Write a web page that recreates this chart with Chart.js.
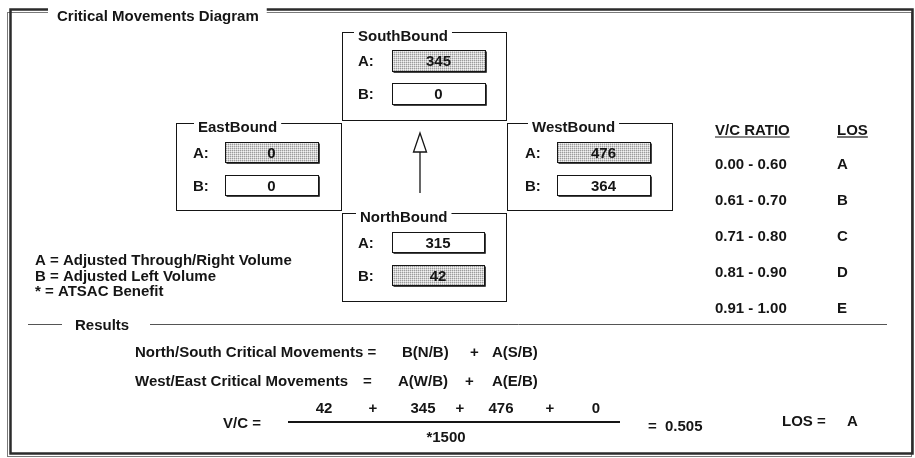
<!DOCTYPE html>
<html><head><meta charset="utf-8">
<script src="https://cdn.jsdelivr.net/npm/chart.js@4.4.0/dist/chart.umd.min.js"></script>
<style>html,body{margin:0;padding:0;background:#fff;overflow:hidden}</style>
</head><body>
<canvas id="c" width="915" height="458"></canvas>
<script>
// ---- data ----
const approaches = ['SouthBound', 'EastBound', 'WestBound', 'NorthBound'];
const volumeA = [345, 0, 476, 315];
const volumeB = [0, 0, 364, 42];
const criticalA = [true, true, true, false];
const criticalB = [false, false, false, true];
const vcRanges = ['0.00 - 0.60', '0.61 - 0.70', '0.71 - 0.80', '0.81 - 0.90', '0.91 - 1.00'];
const losGrades = ['A', 'B', 'C', 'D', 'E'];
const legendLines = ['A = Adjusted Through/Right Volume', 'B = Adjusted Left Volume', '* = ATSAC Benefit'];
const capacity = 1500;
const vcRatio = 0.505;
const losResult = 'A';

// ---- layout (positions only) ----
const FONT = 'bold 15px "Liberation Sans", Arial, Helvetica, sans-serif';
const INK = '#151515';
const boxes = [
  {x0:342,y0:32,x1:506,y1:120,tx:358,lx:358,cx0:392,cx1:485,ay0:50,ay1:71,by0:83,by1:104},
  {x0:176,y0:123,x1:341,y1:210,tx:198,lx:193,cx0:225,cx1:318,ay0:142,ay1:162,by0:175,by1:195},
  {x0:507,y0:123,x1:672,y1:210,tx:532,lx:525,cx0:557,cx1:650,ay0:142,ay1:162,by0:175,by1:195},
  {x0:342,y0:213,x1:506,y1:301,tx:360,lx:358,cx0:392,cx1:484,ay0:232,ay1:252,by0:265,by1:285}
];

const cells = [];
approaches.forEach((name, i) => {
  const b = boxes[i];
  cells.push({x:(b.cx0+b.cx1)/2, y:(b.ay0+b.ay1)/2, w:b.cx1-b.cx0, h:b.ay1-b.ay0, v:volumeA[i], crit:criticalA[i]});
  cells.push({x:(b.cx0+b.cx1)/2, y:(b.by0+b.by1)/2, w:b.cx1-b.cx0, h:b.by1-b.by0, v:volumeB[i], crit:criticalB[i]});
});

function makePattern(ctx){
  const pc = document.createElement('canvas'); pc.width = 2; pc.height = 2;
  const p = pc.getContext('2d');
  p.fillStyle = '#f2f2f2'; p.fillRect(0,0,2,2);
  p.fillStyle = '#9c9c9c'; p.fillRect(0,0,1,1);
  p.fillStyle = '#d2d2d2'; p.fillRect(1,0,1,1); p.fillRect(0,1,1,1);
  return ctx.createPattern(pc, 'repeat');
}

const diagram = {
  id: 'diagram',
  beforeDraw(chart){
    const ctx = chart.ctx;
    ctx.save(); ctx.fillStyle = '#fff'; ctx.fillRect(0,0,chart.width,chart.height); ctx.restore();
  },
  afterDraw(chart){
    const ctx = chart.ctx;
    const sx = chart.scales.x, sy = chart.scales.y;
    const X = v => sx.getPixelForValue(v);
    const Y = v => sy.getPixelForValue(v);
    const line = (x0,y0,x1,y1,w,c) => { ctx.beginPath(); ctx.lineWidth = w||1; ctx.strokeStyle = c||INK; ctx.moveTo(X(x0),Y(y0)); ctx.lineTo(X(x1),Y(y1)); ctx.stroke(); };
    const rect = (x0,y0,x1,y1,w,c) => { ctx.lineWidth = w||1; ctx.strokeStyle = c||INK; ctx.strokeRect(X(x0),Y(y0),X(x1)-X(x0),Y(y1)-Y(y0)); };
    const text = (s,x,y,align) => { ctx.font = FONT; ctx.fillStyle = INK; ctx.textAlign = align||'left'; ctx.textBaseline = 'alphabetic'; ctx.fillText(s, X(x), Y(y)); };
    const tw = s => { ctx.font = FONT; return ctx.measureText(s).width; };
    const white = (x0,y0,x1,y1) => { ctx.fillStyle = '#fff'; ctx.fillRect(X(x0),Y(y0),X(x1)-X(x0),Y(y1)-Y(y0)); };
    ctx.save();

    // outer frame
    rect(7.5,12.5,911.5,456.5,1,'#7a7a7a');
    rect(10.5,9.5,912.5,453.5,2.5,'#2b2b2b');
    const title = 'Critical Movements Diagram';
    white(48, 4, 57 + tw(title) + 8, 16);
    text(title, 57, 21);

    // approach group boxes
    boxes.forEach((b, i) => {
      rect(b.x0+0.5, b.y0+0.5, b.x1+0.5, b.y1+0.5, 1);
      white(b.tx-4, b.y0-2, b.tx + tw(approaches[i]) + 4, b.y0+3);
      text(approaches[i], b.tx, b.y0+9);
      text('A:', b.lx, (b.ay0+b.ay1)/2 + 5.5);
      text('B:', b.lx, (b.by0+b.by1)/2 + 5.5);
    });

    // value cells, positioned by the chart's own elements
    const meta = chart.getDatasetMeta(0);
    const pat = makePattern(ctx);
    meta.data.forEach((el, k) => {
      const r = chart.data.datasets[0].data[k];
      const w = X(r.w) - X(0), h = Y(r.h) - Y(0);
      const x0 = Math.round(el.x - w/2) + 0.5, y0 = Math.round(el.y - h/2) + 0.5;
      ctx.fillStyle = r.crit ? pat : '#fff';
      ctx.fillRect(x0, y0, w, h);
      ctx.lineWidth = 1; ctx.strokeStyle = INK; ctx.strokeRect(x0, y0, w, h);
      ctx.beginPath(); ctx.strokeStyle = '#444';
      ctx.moveTo(x0 + w + 1, y0 + 1); ctx.lineTo(x0 + w + 1, y0 + h + 1); ctx.lineTo(x0 + 1, y0 + h + 1); ctx.stroke();
      ctx.font = FONT; ctx.fillStyle = INK; ctx.textAlign = 'center'; ctx.textBaseline = 'alphabetic';
      ctx.fillText(String(r.v), el.x, el.y + 5.5);
    });

    // arrow
    line(420, 152, 420, 193, 1.3);
    ctx.beginPath(); ctx.lineWidth = 1.3; ctx.strokeStyle = INK;
    ctx.moveTo(X(420), Y(133)); ctx.lineTo(X(413.5), Y(152)); ctx.lineTo(X(426.5), Y(152)); ctx.closePath(); ctx.stroke();

    // legend text
    legendLines.forEach((s, i) => text(s, 35, 265 + i * 15.5));

    // V/C table
    text('V/C RATIO', 715, 135);
    line(715, 137, 715 + tw('V/C RATIO'), 137, 1.2);
    text('LOS', 837, 135);
    line(837, 137, 837 + tw('LOS'), 137, 1.2);
    vcRanges.forEach((s, i) => { text(s, 715, 169 + i * 36); text(losGrades[i], 837, 169 + i * 36); });

    // results separator
    line(28, 324.5, 62, 324.5, 1, '#555');
    line(150, 324.5, 887, 324.5, 1, '#555');
    text('Results', 75, 330);

    // formula lines
    text('North/South Critical Movements =', 135, 357);
    text('B(N/B)', 402, 357); text('+', 470, 357); text('A(S/B)', 492, 357);
    text('West/East Critical Movements', 135, 386);
    text('=', 363, 386); text('A(W/B)', 398, 386); text('+', 465, 386); text('A(E/B)', 492, 386);

    text('V/C =', 223, 428);
    const nums = [volumeB[3], volumeA[0], volumeA[2], volumeA[1]];
    const numX = [324, 423, 501, 596];
    nums.forEach((n, i) => text(String(n), numX[i], 413, 'center'));
    [373, 460, 550].forEach(x => text('+', x, 413, 'center'));
    line(288, 422, 620, 422, 2);
    text('*' + capacity, 446, 442, 'center');
    text('=', 648, 431); text(vcRatio.toFixed(3), 665, 431);
    text('LOS =', 782, 426); text(losResult, 847, 426);

    ctx.restore();
  }
};

new Chart(document.getElementById('c'), {
  type: 'scatter',
  data: { datasets: [{ label: 'volumes', data: cells, pointRadius: 0, pointHoverRadius: 0, showLine: false }] },
  options: {
    responsive: false, animation: false, events: [],
    layout: { padding: 0 },
    plugins: { legend: { display: false }, tooltip: { enabled: false } },
    scales: {
      x: { type: 'linear', min: 0, max: 915, display: false },
      y: { type: 'linear', min: 0, max: 458, reverse: true, display: false }
    }
  },
  plugins: [diagram]
});
</script>
</body></html>
